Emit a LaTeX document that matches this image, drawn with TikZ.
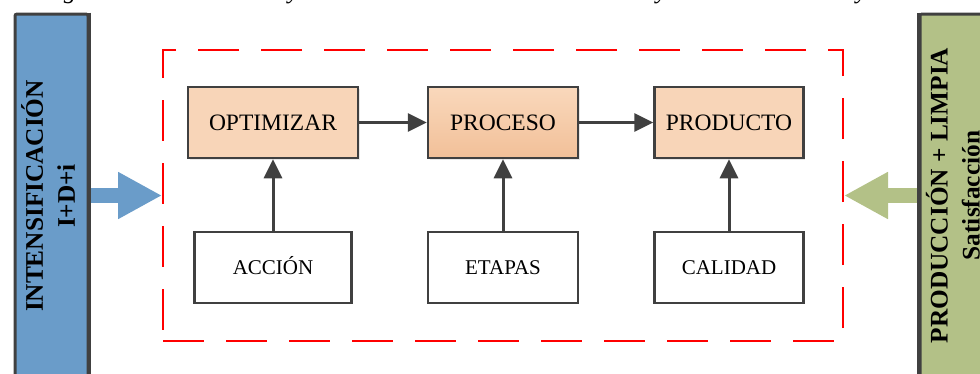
\documentclass[tikz,border=0pt]{standalone}
\usepackage{fontspec}
\setmainfont{Liberation Serif}
\usetikzlibrary{arrows.meta,shadows}
\definecolor{dgray}{HTML}{404040}
\definecolor{peach}{HTML}{F8D5B8}
\definecolor{peachtop}{HTML}{F9D8BC}
\definecolor{peachbot}{HTML}{F2C098}
\definecolor{sideblue}{HTML}{6A9CC9}
\definecolor{sidegreen}{HTML}{B3C187}
\begin{document}
\begin{tikzpicture}[x=1pt,y=-1pt,
  topbox/.style={draw=dgray, line width=2.5pt, fill=peach, minimum width=170pt, minimum height=71pt,
    inner sep=0pt, text height=15.5pt, text depth=0pt, font=\fontsize{23.5}{28}\selectfont,
    drop shadow={opacity=0.18, shadow xshift=1.5pt, shadow yshift=-1.5pt}},
  botbox/.style={draw=dgray, line width=2.5pt, fill=white, minimum height=71pt,
    inner sep=0pt, text height=13.9pt, text depth=0pt, font=\fontsize{21}{25}\selectfont},
  conn/.style={draw=dgray, line width=3pt, -{Triangle[length=19pt,width=18pt]}},
  sidebar/.style={draw=dgray, line width=3pt, rounded corners=2pt, minimum width=73pt,
    minimum height=380pt, anchor=north west, inner sep=0pt},
  sidetext/.style={rotate=90, align=center, inner sep=0pt, font=\bfseries\fontsize{25.3}{32}\selectfont},
  bigarrow/.style={line width=15pt, -{Triangle[length=44pt,width=44pt]}},
  frame/.style={draw=red, line width=2pt, dash pattern=on 41pt off 22pt, minimum width=680pt,
    minimum height=291pt, inner sep=0pt},
  cut/.style={anchor=base, inner sep=0pt, font=\itshape\fontsize{25}{30}\selectfont}]
\useasboundingbox (0,0) rectangle (980,373);
\clip (0,0) rectangle (980,373);

% cut-off caption line above
\node[cut] (c1) at (70,-1.5) {g};
\node[cut] (c2) at (294,-1.5) {y};
\node[cut] (c3) at (662,-1.5) {y};
\node[cut] (c4) at (862,-1.5) {y};

% dashed frame
\node[frame] (frame) at (503,195.5) {};

% side bars
\node[sidebar, fill=sideblue] (lbar) at (13.5,12.5) {};
\node[sidebar, fill=sidegreen] (rbar) at (918.5,12.5) {};

% big arrows
\draw[bigarrow, sideblue] (lbar.east |- frame.west) -- (frame.west);
\draw[bigarrow, sidegreen] (rbar.west |- frame.east) -- (frame.east);
\draw[dgray, line width=3pt] (lbar.north east) -- (lbar.south east);
\draw[dgray, line width=3pt] (rbar.north west) -- (rbar.south west);

\node[sidetext] (ltext) at (48,196) {INTENSIFICACIÓN\\I+D+i};
\node[sidetext] (rtext) at (953,195.5) {PRODUCCIÓN + LIMPIA\\Satisfacción};

% top boxes
\node[topbox] (optimizar) at (273,122.5) {OPTIMIZAR};
\node[topbox, minimum width=150pt, shading=axis, top color=peachtop, bottom color=peachbot] (proceso) at (503,122.5) {PROCESO};
\node[topbox, minimum width=149pt] (producto) at (729,122.5) {PRODUCTO};

% bottom boxes
\node[botbox, minimum width=157pt] (accion) at (273,267.5) {ACCIÓN};
\node[botbox, minimum width=150pt] (etapas) at (503,267.5) {ETAPAS};
\node[botbox, minimum width=149pt] (calidad) at (729,267.5) {CALIDAD};

% connectors
\draw[conn] (optimizar) -- (proceso);
\draw[conn] (proceso) -- (producto);
\draw[conn] (accion) -- (optimizar);
\draw[conn] (etapas) -- (proceso);
\draw[conn] (calidad) -- (producto);
\end{tikzpicture}
\end{document}
